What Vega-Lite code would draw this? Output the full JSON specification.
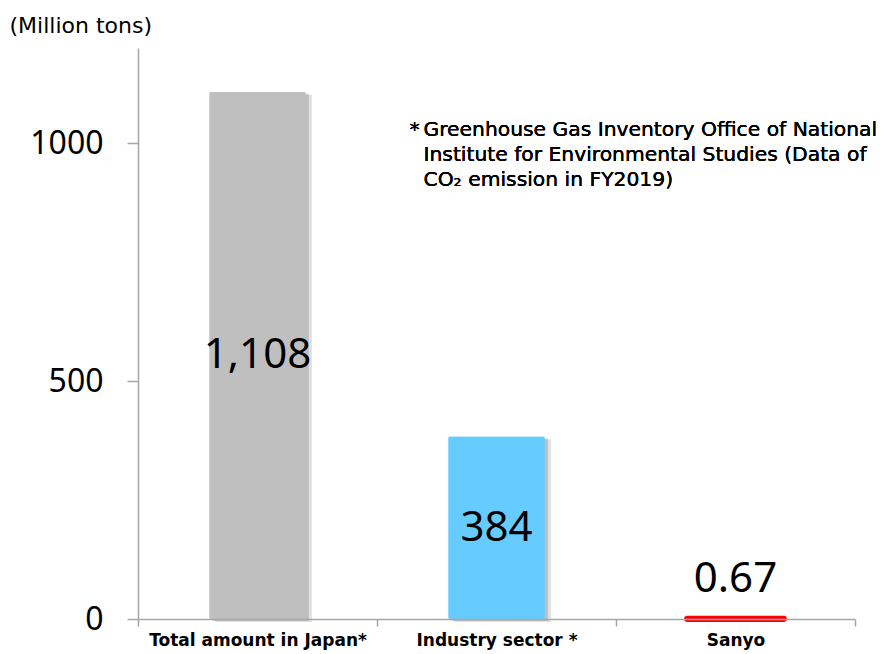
{
  "$schema": "https://vega.github.io/schema/vega-lite/v6.json",
  "width": 717,
  "height": 571,
  "autosize": {"type": "none"},
  "padding": {"left": 138, "top": 48, "right": 32, "bottom": 35},
  "background": "white",
  "config": {"view": {"stroke": null}, "font": "Noto Sans"},
  "data": {
    "values": [
      {"cat": "Total amount in Japan*", "value": 1108, "label": "1,108"},
      {"cat": "Industry sector *", "value": 384, "label": "384"},
      {"cat": "Sanyo", "value": 0.67, "label": "0.67"}
    ]
  },
  "encoding": {
    "x": {
      "field": "cat", "type": "nominal", "sort": null,
      "scale": {"paddingInner": 0, "paddingOuter": 0},
      "axis": {
        "title": null, "labelAngle": 0, "labelFont": "DejaVu Sans", "labelFontWeight": "bold",
        "labelFontSize": 17, "labelColor": "#000", "domainColor": "#a6a6a6", "tickColor": "#a6a6a6",
        "domainWidth": 1.5, "tickWidth": 1.5, "tickSize": 7, "tickBand": "extent", "labelPadding": 6,
        "labelLimit": 0, "zindex": 1
      }
    }
  },
  "layer": [
    {
      "transform": [{"filter": "datum.cat !== 'Sanyo'"}],
      "mark": {"type": "bar", "width": {"band": 0.405}, "color": "#000", "opacity": 0.12, "xOffset": 6, "yOffset": 3},
      "encoding": {"y": {"field": "value", "type": "quantitative"}}
    },
    {
      "transform": [{"filter": "datum.cat !== 'Sanyo'"}],
      "mark": {"type": "bar", "width": {"band": 0.405}, "color": "#000", "opacity": 0.15, "xOffset": 3, "yOffset": 2},
      "encoding": {"y": {"field": "value", "type": "quantitative"}}
    },
    {
      "mark": {"type": "bar", "width": {"band": 0.405}, "cornerRadius": 2},
      "encoding": {
        "y": {
          "field": "value", "type": "quantitative",
          "scale": {"domain": [0, 1200], "nice": false},
          "axis": {
            "values": [0, 500, 1000], "format": "d", "grid": false, "labelFontSize": 32, "labelColor": "#000",
            "labelFont": "Noto Sans", "domainColor": "#a6a6a6", "tickColor": "#a6a6a6",
            "domainWidth": 1.5, "tickWidth": 1.5, "tickSize": 11, "labelPadding": 24,
            "title": "(Million tons)", "titleAngle": 0, "titleX": -129, "titleY": -23,
            "titleAlign": "left", "titleBaseline": "middle", "titleFontSize": 22,
            "titleFontWeight": "normal", "titleFont": "DejaVu Sans", "titleColor": "#000"
          }
        },
        "color": {
          "field": "cat", "type": "nominal", "legend": null,
          "scale": {"domain": ["Total amount in Japan*", "Industry sector *", "Sanyo"], "range": ["#bfbfbf", "#66ccff", "#ff0000"]}
        },
        "stroke": {
          "field": "cat", "type": "nominal", "legend": null,
          "scale": {"domain": ["Total amount in Japan*", "Industry sector *", "Sanyo"], "range": ["#bfbfbf", "#66ccff", "#ff0000"]}
        },
        "strokeWidth": {"condition": {"test": "datum.cat === 'Sanyo'", "value": 6}, "value": 0}
      }
    },
    {
      "transform": [{"filter": "datum.cat !== 'Sanyo'"}, {"calculate": "datum.value / 2", "as": "mid"}],
      "mark": {"type": "text", "fontSize": 42, "font": "Noto Sans", "color": "#000", "baseline": "middle"},
      "encoding": {
        "y": {"field": "mid", "type": "quantitative"},
        "text": {"field": "label"}
      }
    },
    {
      "transform": [{"filter": "datum.cat === 'Sanyo'"}],
      "mark": {"type": "text", "fontSize": 42, "font": "Noto Sans", "color": "#000", "baseline": "middle", "dy": -40},
      "encoding": {
        "y": {"field": "value", "type": "quantitative"},
        "text": {"field": "label"}
      }
    },
    {
      "mark": {"type": "text", "font": "DejaVu Sans", "fontSize": 20.3, "color": "#000", "align": "left", "baseline": "middle", "dx": -87},
      "encoding": {
        "x": {"datum": "Industry sector *"},
        "y": {"datum": 1027},
        "text": {"value": "*"}
      }
    },
    {
      "mark": {"type": "text", "font": "DejaVu Sans", "fontSize": 20.3, "color": "#000", "align": "left", "baseline": "middle", "lineHeight": 25, "dx": -73},
      "encoding": {
        "x": {"datum": "Industry sector *"},
        "y": {"datum": 1027},
        "text": {"value": ["Greenhouse Gas Inventory Office of National", "Institute for Environmental Studies (Data of", "CO₂ emission in FY2019)"]}
      }
    }
  ]
}
